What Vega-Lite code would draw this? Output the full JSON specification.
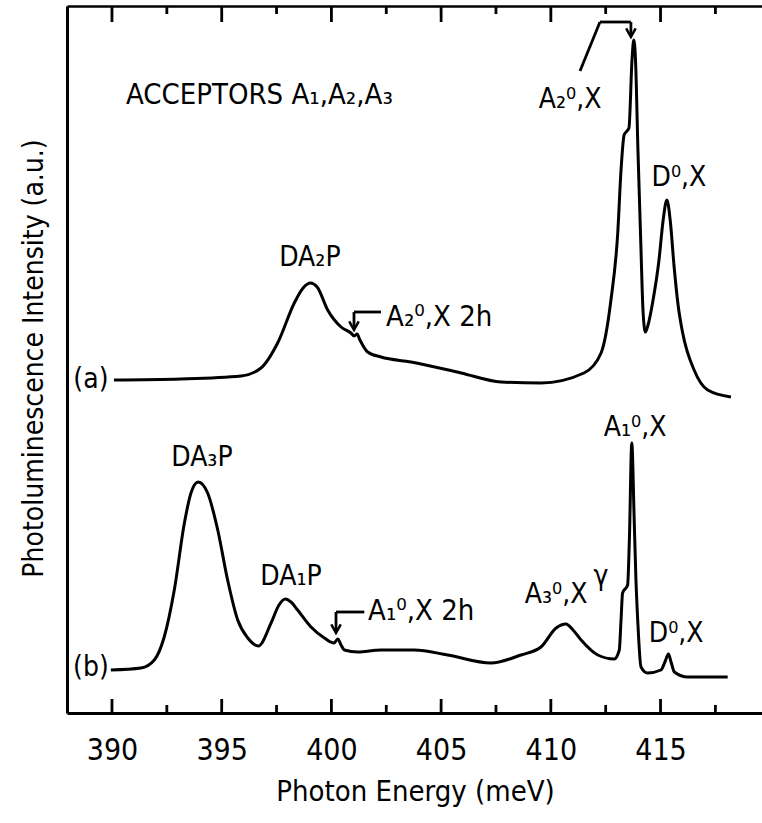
{
  "$schema": "https://vega.github.io/schema/vega-lite/v6.json",
  "width": 696,
  "height": 707,
  "autosize": {"type": "none"},
  "padding": {"left": 67, "top": 6, "right": 0, "bottom": 110},
  "background": "white",
  "config": {
    "view": {"stroke": null},
    "font": "DejaVu Sans Condensed, Liberation Sans Narrow, sans-serif",
    "axis": {"grid": false, "domainColor": "black", "tickColor": "black", "labelColor": "black", "titleColor": "black", "titleFontWeight": "normal"}
  },
  "datasets": {
    "spectra": [
      {"trace": "a", "E": 390.09, "I": 333}, {"trace": "a", "E": 393.14, "I": 334}, {"trace": "a", "E": 395.88, "I": 337},
      {"trace": "a", "E": 396.79, "I": 345}, {"trace": "a", "E": 397.55, "I": 370}, {"trace": "a", "E": 398.31, "I": 410},
      {"trace": "a", "E": 398.71, "I": 425}, {"trace": "a", "E": 399.04, "I": 430}, {"trace": "a", "E": 399.35, "I": 426},
      {"trace": "a", "E": 399.83, "I": 403}, {"trace": "a", "E": 400.44, "I": 386}, {"trace": "a", "E": 400.89, "I": 380},
      {"trace": "a", "E": 401.04, "I": 377}, {"trace": "a", "E": 401.17, "I": 379}, {"trace": "a", "E": 401.3, "I": 373},
      {"trace": "a", "E": 401.65, "I": 361}, {"trace": "a", "E": 402.26, "I": 356}, {"trace": "a", "E": 403.63, "I": 351},
      {"trace": "a", "E": 405.91, "I": 340}, {"trace": "a", "E": 407.73, "I": 331}, {"trace": "a", "E": 409.55, "I": 330},
      {"trace": "a", "E": 411.51, "I": 340}, {"trace": "a", "E": 412.29, "I": 360}, {"trace": "a", "E": 412.74, "I": 413},
      {"trace": "a", "E": 413.05, "I": 480}, {"trace": "a", "E": 413.2, "I": 543}, {"trace": "a", "E": 413.34, "I": 578},
      {"trace": "a", "E": 413.43, "I": 581}, {"trace": "a", "E": 413.56, "I": 585}, {"trace": "a", "E": 413.7, "I": 653},
      {"trace": "a", "E": 413.78, "I": 673}, {"trace": "a", "E": 413.86, "I": 653}, {"trace": "a", "E": 413.97, "I": 563},
      {"trace": "a", "E": 414.11, "I": 463}, {"trace": "a", "E": 414.2, "I": 403}, {"trace": "a", "E": 414.31, "I": 381},
      {"trace": "a", "E": 414.43, "I": 388}, {"trace": "a", "E": 414.66, "I": 413}, {"trace": "a", "E": 414.93, "I": 453},
      {"trace": "a", "E": 415.12, "I": 493}, {"trace": "a", "E": 415.29, "I": 513}, {"trace": "a", "E": 415.44, "I": 493},
      {"trace": "a", "E": 415.62, "I": 446}, {"trace": "a", "E": 415.8, "I": 408}, {"trace": "a", "E": 416.01, "I": 380},
      {"trace": "a", "E": 416.53, "I": 343}, {"trace": "a", "E": 417.15, "I": 323}, {"trace": "a", "E": 418.21, "I": 316},
      {"trace": "b", "E": 389.95, "I": 43}, {"trace": "b", "E": 391.32, "I": 45}, {"trace": "b", "E": 391.93, "I": 53},
      {"trace": "b", "E": 392.38, "I": 76}, {"trace": "b", "E": 392.84, "I": 123}, {"trace": "b", "E": 393.3, "I": 190},
      {"trace": "b", "E": 393.6, "I": 220}, {"trace": "b", "E": 393.93, "I": 231}, {"trace": "b", "E": 394.36, "I": 220},
      {"trace": "b", "E": 394.82, "I": 183}, {"trace": "b", "E": 395.27, "I": 133}, {"trace": "b", "E": 395.73, "I": 93},
      {"trace": "b", "E": 396.19, "I": 75}, {"trace": "b", "E": 396.67, "I": 67}, {"trace": "b", "E": 397.25, "I": 90},
      {"trace": "b", "E": 397.61, "I": 108}, {"trace": "b", "E": 397.9, "I": 114}, {"trace": "b", "E": 398.16, "I": 111},
      {"trace": "b", "E": 398.46, "I": 103}, {"trace": "b", "E": 399.07, "I": 86}, {"trace": "b", "E": 399.68, "I": 75},
      {"trace": "b", "E": 400.12, "I": 70}, {"trace": "b", "E": 400.29, "I": 74}, {"trace": "b", "E": 400.44, "I": 68},
      {"trace": "b", "E": 400.59, "I": 63}, {"trace": "b", "E": 401.2, "I": 61}, {"trace": "b", "E": 402.26, "I": 63},
      {"trace": "b", "E": 403.78, "I": 63}, {"trace": "b", "E": 405.3, "I": 58}, {"trace": "b", "E": 407.27, "I": 50},
      {"trace": "b", "E": 408.64, "I": 58}, {"trace": "b", "E": 409.55, "I": 66}, {"trace": "b", "E": 410.24, "I": 85},
      {"trace": "b", "E": 410.69, "I": 89}, {"trace": "b", "E": 411.01, "I": 83}, {"trace": "b", "E": 411.38, "I": 73},
      {"trace": "b", "E": 412.14, "I": 58}, {"trace": "b", "E": 412.89, "I": 54}, {"trace": "b", "E": 413.12, "I": 63},
      {"trace": "b", "E": 413.2, "I": 93}, {"trace": "b", "E": 413.27, "I": 120}, {"trace": "b", "E": 413.5, "I": 128},
      {"trace": "b", "E": 413.58, "I": 173}, {"trace": "b", "E": 413.69, "I": 270}, {"trace": "b", "E": 413.8, "I": 193},
      {"trace": "b", "E": 413.88, "I": 133}, {"trace": "b", "E": 413.96, "I": 93}, {"trace": "b", "E": 414.11, "I": 46},
      {"trace": "b", "E": 414.41, "I": 40}, {"trace": "b", "E": 415.02, "I": 43}, {"trace": "b", "E": 415.2, "I": 51},
      {"trace": "b", "E": 415.36, "I": 59}, {"trace": "b", "E": 415.48, "I": 51}, {"trace": "b", "E": 415.63, "I": 41},
      {"trace": "b", "E": 416.24, "I": 36}, {"trace": "b", "E": 418.06, "I": 36}
    ],
    "labelsCentered": [
      {"text": "(a)", "E": 389.04, "I": 333},
      {"text": "(b)", "E": 389.04, "I": 45},
      {"text": "DA₂P", "E": 399.02, "I": 455},
      {"text": "A₂⁰,X", "E": 410.88, "I": 613},
      {"text": "D⁰,X", "E": 415.84, "I": 535},
      {"text": "DA₃P", "E": 394.1, "I": 255},
      {"text": "DA₁P", "E": 398.16, "I": 136},
      {"text": "A₃⁰,X", "E": 410.24, "I": 118},
      {"text": "γ", "E": 412.29, "I": 136},
      {"text": "A₁⁰,X", "E": 413.84, "I": 285},
      {"text": "D⁰,X", "E": 415.71, "I": 79}
    ],
    "labelsLeft": [
      {"text": "ACCEPTORS A₁,A₂,A₃", "E": 390.64, "I": 618},
      {"text": "A₂⁰,X 2h", "E": 402.49, "I": 396},
      {"text": "A₁⁰,X 2h", "E": 401.67, "I": 102}
    ],
    "segments": [
      {"E": 401.03, "I": 401, "E2": 402.26, "I2": 401},
      {"E": 401.03, "I": 401, "E2": 401.03, "I2": 385},
      {"E": 411.33, "I": 642, "E2": 412.24, "I2": 691},
      {"E": 412.24, "I": 691, "E2": 413.65, "I2": 691},
      {"E": 413.65, "I": 691, "E2": 413.65, "I2": 678},
      {"E": 400.21, "I": 101, "E2": 401.5, "I2": 101},
      {"E": 400.21, "I": 101, "E2": 400.21, "I2": 82},
      {"E": 390, "E2": 390.001, "I": 1, "I2": 14}, {"E": 395, "E2": 395.001, "I": 1, "I2": 14}, {"E": 400, "E2": 400.001, "I": 1, "I2": 14},
      {"E": 405, "E2": 405.001, "I": 1, "I2": 14}, {"E": 410, "E2": 410.001, "I": 1, "I2": 14}, {"E": 415, "E2": 415.001, "I": 1, "I2": 14},
      {"E": 392.5, "E2": 392.501, "I": 1, "I2": 8}, {"E": 397.5, "E2": 397.501, "I": 1, "I2": 8}, {"E": 402.5, "E2": 402.501, "I": 1, "I2": 8},
      {"E": 407.5, "E2": 407.501, "I": 1, "I2": 8}, {"E": 412.5, "E2": 412.501, "I": 1, "I2": 8}, {"E": 417.5, "E2": 417.501, "I": 1, "I2": 8},
      {"E": 390, "E2": 390.001, "I": 706, "I2": 691}, {"E": 395, "E2": 395.001, "I": 706, "I2": 691}, {"E": 400, "E2": 400.001, "I": 706, "I2": 691},
      {"E": 405, "E2": 405.001, "I": 706, "I2": 691}, {"E": 410, "E2": 410.001, "I": 706, "I2": 691}, {"E": 415, "E2": 415.001, "I": 706, "I2": 691},
      {"E": 392.5, "E2": 392.501, "I": 706, "I2": 699}, {"E": 397.5, "E2": 397.501, "I": 706, "I2": 699}, {"E": 402.5, "E2": 402.501, "I": 706, "I2": 699},
      {"E": 407.5, "E2": 407.501, "I": 706, "I2": 699}, {"E": 412.5, "E2": 412.501, "I": 706, "I2": 699}, {"E": 417.5, "E2": 417.501, "I": 706, "I2": 699}
    ],
    "arrowTips": [
      {"E": 401.03, "I": 383},
      {"E": 413.65, "I": 676},
      {"E": 400.21, "I": 80}
    ]
  },
  "layer": [
    {
      "data": {"name": "spectra"},
      "mark": {"type": "line", "color": "black", "strokeWidth": 3, "interpolate": "monotone"},
      "encoding": {
        "x": {
          "field": "E", "type": "quantitative",
          "scale": {"domain": [387.95, 419.67], "nice": false, "zero": false},
          "axis": {
            "orient": "bottom",
            "values": [390, 395, 400, 405, 410, 415],
            "format": "d",
            "ticks": false,
            "domainWidth": 3,
            "labelFontSize": 30,
            "labelPadding": 22,
            "labelFlush": false,
            "labelOverlap": false,
            "title": "Photon Energy (meV)",
            "titleFontSize": 29,
            "titlePadding": 12
          }
        },
        "y": {
          "field": "I", "type": "quantitative",
          "scale": {"domain": [0, 707], "nice": false, "zero": false},
          "axis": {
            "orient": "left",
            "ticks": false,
            "labels": false,
            "domainWidth": 3,
            "title": "Photoluminescence Intensity (a.u.)",
            "titleFontSize": 28,
            "titleAngle": -90,
            "titleX": -33,
            "titleY": 352,
            "titleAlign": "center",
            "titleBaseline": "middle"
          }
        },
        "detail": {"field": "trace"}
      }
    },
    {
      "data": {"name": "segments"},
      "mark": {"type": "rule", "color": "black", "strokeWidth": 2.8},
      "encoding": {
        "x": {
          "field": "E", "type": "quantitative",
          "axis": {
            "orient": "top",
            "ticks": false,
            "labels": false,
            "domainWidth": 2.5,
            "title": null
          }
        },
        "x2": {"field": "E2"},
        "y": {"field": "I", "type": "quantitative", "axis": null},
        "y2": {"field": "I2"}
      }
    },
    {
      "data": {"name": "arrowTips"},
      "mark": {"type": "point", "shape": "M-1,-1.8L0,0L1,-1.8", "filled": false, "color": "black", "strokeWidth": 2.5, "size": 90, "opacity": 1},
      "encoding": {
        "x": {"field": "E", "type": "quantitative", "axis": null},
        "y": {"field": "I", "type": "quantitative", "axis": null}
      }
    },
    {
      "data": {"name": "labelsCentered"},
      "mark": {"type": "text", "fontSize": 28, "align": "center", "baseline": "middle", "color": "black"},
      "encoding": {
        "x": {"field": "E", "type": "quantitative", "axis": null},
        "y": {"field": "I", "type": "quantitative", "axis": null},
        "text": {"field": "text"}
      }
    },
    {
      "data": {"name": "labelsLeft"},
      "mark": {"type": "text", "fontSize": 29, "align": "left", "baseline": "middle", "color": "black"},
      "encoding": {
        "x": {"field": "E", "type": "quantitative", "axis": null},
        "y": {"field": "I", "type": "quantitative", "axis": null},
        "text": {"field": "text"}
      }
    }
  ],
  "resolve": {"axis": {"x": "independent", "y": "independent"}}
}
